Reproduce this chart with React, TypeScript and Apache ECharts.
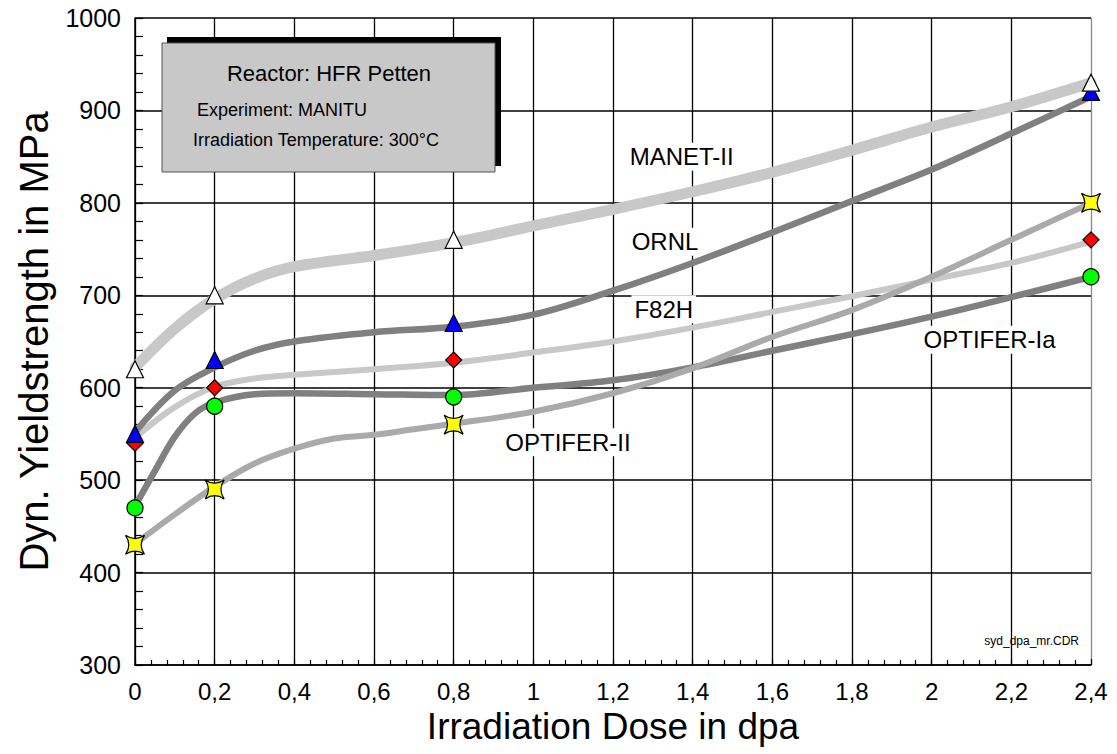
import React, { useEffect, useRef } from "react";
import * as echarts from "echarts";

// ---- Data ----
const xTicks = [0, 0.2, 0.4, 0.6, 0.8, 1, 1.2, 1.4, 1.6, 1.8, 2, 2.2, 2.4];

// measured points [dose, MPa]
const manetPts = [[0, 620], [0.2, 700], [0.8, 760], [2.4, 930]];
const ornlPts = [[0, 550], [0.2, 630], [0.8, 670], [2.4, 920]];
const f82hPts = [[0, 540], [0.2, 600], [0.8, 630], [2.4, 760]];
const optIaPts = [[0, 470], [0.2, 580], [0.8, 590], [2.4, 720]];
const optIIPts = [[0, 430], [0.2, 490], [0.8, 560], [2.4, 800]];

// fitted curves [dose, MPa]
const manetCurve = [
  [0, 622], [0.1, 664], [0.2, 696], [0.3, 718], [0.4, 731], [0.6, 743], [0.8, 757],
  [1.0, 775], [1.2, 793], [1.4, 812], [1.6, 833], [1.8, 857], [2.0, 882], [2.2, 904], [2.4, 930],
];
const ornlCurve = [
  [0, 552], [0.1, 597], [0.2, 622], [0.3, 640], [0.4, 650], [0.6, 660], [0.8, 666],
  [1.0, 679], [1.2, 705], [1.4, 735], [1.6, 768], [1.8, 802], [2.0, 836], [2.2, 875], [2.4, 915],
];
const f82hCurve = [
  [0, 546], [0.1, 579], [0.2, 601], [0.3, 610], [0.4, 614], [0.6, 620], [0.8, 627],
  [1.0, 638], [1.2, 650], [1.4, 665], [1.6, 682], [1.8, 699], [2.0, 717], [2.2, 735], [2.4, 758],
];
const optIaCurve = [
  [0, 472], [0.05, 510], [0.1, 547], [0.15, 572], [0.2, 584], [0.3, 593], [0.4, 594],
  [0.6, 593], [0.8, 592], [1.0, 600], [1.2, 608], [1.4, 622], [1.6, 640], [1.8, 658],
  [2.0, 677], [2.2, 698], [2.4, 720],
];
const optIICurve = [
  [0, 431], [0.1, 463], [0.2, 493], [0.3, 518], [0.4, 534], [0.5, 545], [0.6, 549],
  [0.7, 555], [0.8, 561], [1.0, 574], [1.2, 594], [1.4, 621], [1.6, 655], [1.8, 684],
  [2.0, 720], [2.2, 760], [2.4, 800],
];

// series label anchors [dose, MPa]
const labelManet = [1.233, 850];
const labelOrnl = [1.238, 758];
const labelF82h = [1.245, 685];
const labelOptIa = [1.971, 652];
const labelOptII = [0.921, 541];

const names = ["MANET-II", "ORNL", "F82H", "OPTIFER-Ia", "OPTIFER-II"];

const FONT = "'Liberation Sans', Arial, Helvetica, sans-serif";
const STAR =
  "path://M-10,-10 Q0,-3 10,-10 Q3,0 10,10 Q0,3 -10,10 Q-3,0 -10,-10 Z";

function curveSeries(name: string, data: number[][], color: string, width: number, label: number[]) {
  return {
    name,
    type: "line",
    data,
    smooth: 0.35,
    showSymbol: false,
    symbol: "none",
    clip: false,
    z: 3,
    lineStyle: { color, width, cap: "round", join: "round" },
    markPoint: {
      symbol: "circle",
      symbolSize: 1,
      itemStyle: { color: "rgba(0,0,0,0)" },
      z: 4,
      data: [
        {
          coord: label,
          label: {
            show: true,
            formatter: name,
            position: "right",
            distance: 0,
            color: "#000",
            fontFamily: FONT,
            fontSize: 24,
            backgroundColor: "#fff",
            padding: [2, 3, 2, 3],
          },
        },
      ],
    },
  };
}

function pointSeries(name: string, data: number[][], symbol: string, color: string, size: number, z: number) {
  return {
    name: name + " pts",
    type: "scatter",
    data,
    symbol,
    symbolSize: size,
    clip: false,
    z,
    itemStyle: { color, borderColor: "#000", borderWidth: 1.2, opacity: 1 },
  };
}

export default function App() {
  const ref = useRef<HTMLDivElement>(null);
  useEffect(() => {
    const chart = echarts.init(ref.current!, null, { renderer: "svg" });
    const fmtX = (v: number) => String(Math.round(v * 10) / 10).replace(".", ",");
    const fmtY = (v: number) => String(Math.round(v));
    chart.setOption({
      animation: false,
      backgroundColor: "#fff",
      textStyle: { fontFamily: FONT },
      grid: { left: 135, top: 18, right: 26, bottom: 89, containLabel: false },
      xAxis: {
        type: "value",
        min: 0,
        max: 2.4,
        interval: 0.2,
        name: "Irradiation Dose in dpa",
        nameLocation: "middle",
        nameGap: 40,
        nameTextStyle: { fontSize: 37, color: "#000", fontFamily: FONT },
        axisLine: { show: true, onZero: false, lineStyle: { color: "#000", width: 1.5 } },
        axisTick: { show: true, inside: true, length: 6, lineStyle: { color: "#000", width: 1.2 } },
        minorTick: { show: true, splitNumber: 5, length: 5, lineStyle: { color: "#000", width: 1.2 } },
        axisLabel: { formatter: fmtX, fontSize: 24, color: "#000", margin: 14, fontFamily: FONT },
        splitLine: {
          show: true,
          lineStyle: {
            color: xTicks.map((t, i) => (i === xTicks.length - 1 ? "#888" : "#000")),
            width: 1.3,
          },
        },
      },
      yAxis: {
        type: "value",
        min: 300,
        max: 1000,
        interval: 100,
        name: "Dyn. Yieldstrength in MPa",
        nameLocation: "middle",
        nameGap: 78,
        nameRotate: 90,
        nameTextStyle: { fontSize: 40, color: "#000", fontFamily: FONT },
        axisLine: { show: true, lineStyle: { color: "#000", width: 1.5 } },
        axisTick: { show: true, inside: true, length: 8, lineStyle: { color: "#000", width: 1.2 } },
        minorTick: { show: true, splitNumber: 5, length: 8, lineStyle: { color: "#000", width: 1.2 } },
        axisLabel: { formatter: fmtY, fontSize: 25, color: "#000", margin: 14, fontFamily: FONT },
        splitLine: { show: true, lineStyle: { color: "#000", width: 1.5 } },
      },
      series: [
        curveSeries(names[0], manetCurve, "#c8c8c8", 11, labelManet),
        curveSeries(names[2], f82hCurve, "#c8c8c8", 6, labelF82h),
        curveSeries(names[1], ornlCurve, "#808080", 6.5, labelOrnl),
        curveSeries(names[3], optIaCurve, "#808080", 6.5, labelOptIa),
        curveSeries(names[4], optIICurve, "#aaaaaa", 6, labelOptII),
        pointSeries(names[2], f82hPts, "diamond", "#ff0000", 16, 10),
        pointSeries(names[1], ornlPts, "triangle", "#0000ff", 17, 11),
        pointSeries(names[0], manetPts, "triangle", "#ffffff", 17, 12),
        pointSeries(names[3], optIaPts, "circle", "#00ff00", 16, 10),
        pointSeries(names[4], optIIPts, STAR, "#ffff00", 19, 10),
      ],
      graphic: [
        { type: "rect", z: 20, shape: { x: 167, y: 37, width: 334, height: 129 }, style: { fill: "#000" } },
        {
          type: "rect",
          z: 21,
          shape: { x: 162, y: 43, width: 333, height: 129 },
          style: { fill: "#c8c8c8", stroke: "#555", lineWidth: 1 },
        },
        {
          type: "text",
          z: 22,
          x: 329,
          y: 73,
          style: {
            text: "Reactor: HFR Petten",
            fontSize: 22,
            fontFamily: FONT,
            fill: "#000",
            align: "center",
            verticalAlign: "middle",
          },
        },
        {
          type: "text",
          z: 22,
          x: 197,
          y: 110,
          style: {
            text: "Experiment: MANITU",
            fontSize: 18,
            fontFamily: FONT,
            fill: "#000",
            align: "left",
            verticalAlign: "middle",
          },
        },
        {
          type: "text",
          z: 22,
          x: 193,
          y: 140,
          style: {
            text: "Irradiation Temperature: 300°C",
            fontSize: 18,
            fontFamily: FONT,
            fill: "#000",
            align: "left",
            verticalAlign: "middle",
          },
        },
        {
          type: "text",
          z: 22,
          x: 1079,
          y: 641,
          style: {
            text: "syd_dpa_mr.CDR",
            fontSize: 12,
            fontFamily: FONT,
            fill: "#000",
            align: "right",
            verticalAlign: "middle",
          },
        },
      ],
    });
    return () => chart.dispose();
  }, []);
  return (
    <div
      ref={ref}
      style={{ position: "fixed", left: 0, top: 0, width: 1117, height: 754, background: "#fff" }}
    />
  );
}
